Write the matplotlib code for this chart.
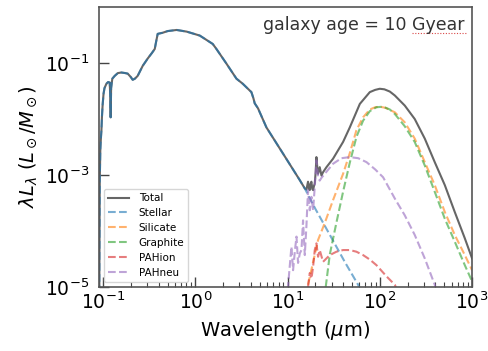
import numpy as np
import matplotlib.pyplot as plt
from matplotlib.ticker import LogLocator, NullLocator

# values, stored as log10(wavelength / um) and log10(lambda L_lambda)
stellar_logw = [-1.042, -1.036, -1.030, -1.024, -1.018, -1.012, -1.005, -0.995, -0.985, -0.964,
                -0.945, -0.928, -0.922, -0.918, -0.913, -0.900, -0.874, -0.840, -0.802, -0.760,
                -0.733, -0.700, -0.679, -0.655, -0.625, -0.570, -0.516, -0.470, -0.440, -0.425,
                -0.408, -0.354, -0.300, -0.202, -0.093, 0.048, 0.189, 0.229, 0.337, 0.446,
                0.514, 0.608, 0.630, 0.644, 0.680, 0.771, 0.948, 1.132, 1.187, 1.300,
                1.469, 1.620, 1.765, 1.800]
stellar_logv = [-5.5, -3.1, -2.55, -2.35, -2.20, -1.95, -1.75, -1.55, -1.45, -1.37,
                -1.34, -1.35, -1.60, -1.97, -1.45, -1.28, -1.23, -1.18, -1.17, -1.18,
                -1.19, -1.25, -1.30, -1.28, -1.23, -1.05, -0.92, -0.82, -0.75, -0.62,
                -0.48, -0.46, -0.43, -0.41, -0.44, -0.51, -0.66, -0.75, -1.01, -1.28,
                -1.37, -1.52, -1.63, -1.72, -1.81, -2.15, -2.61, -3.09, -3.24, -3.60,
                -4.10, -4.55, -4.96, -5.1]

# total in the infrared (below ~10 um it is the stellar curve)
total_ir_logw = [1.132, 1.187, 1.205, 1.222, 1.232, 1.241, 1.250, 1.259, 1.268, 1.277,
                 1.286, 1.295, 1.305, 1.313, 1.322, 1.331, 1.349, 1.368, 1.385, 1.422,
                 1.493, 1.602, 1.675, 1.784, 1.892, 1.950, 2.000, 2.050, 2.109, 2.163,
                 2.271, 2.379, 2.488, 2.596, 2.705, 2.813, 2.922, 3.001]
total_ir_logv = [-3.09, -3.24, -3.26, -3.12, -3.24, -3.27, -3.15, -3.12, -3.25, -3.27,
                 -3.20, -3.15, -2.95, -2.68, -2.85, -2.98, -2.86, -3.01, -2.95, -2.86,
                 -2.71, -2.41, -2.15, -1.73, -1.52, -1.48, -1.46, -1.47, -1.51, -1.58,
                 -1.76, -2.00, -2.35, -2.77, -3.18, -3.66, -4.13, -4.49]

silicate_logw = [1.222, 1.331, 1.403, 1.493, 1.602, 1.675, 1.747, 1.819, 1.892, 1.950,
                 2.000, 2.060, 2.163, 2.271, 2.379, 2.488, 2.596, 2.705, 2.813, 2.922, 3.001]
silicate_logv = [-4.96, -4.16, -3.86, -3.45, -2.98, -2.61, -2.20, -1.97, -1.83, -1.79,
                 -1.78, -1.80, -1.88, -2.06, -2.35, -2.77, -3.18, -3.66, -4.07, -4.43, -4.70]

graphite_logw = [1.414, 1.458, 1.530, 1.602, 1.675, 1.747, 1.819, 1.892, 1.964, 2.036,
                 2.109, 2.163, 2.271, 2.379, 2.488, 2.596, 2.705, 2.813, 2.922, 3.001]
graphite_logv = [-5.0, -4.42, -3.85, -3.30, -2.78, -2.32, -2.03, -1.86, -1.79, -1.78,
                 -1.83, -1.91, -2.13, -2.41, -2.83, -3.30, -3.78, -4.19, -4.61, -4.90]

pahion_logw = [1.222, 1.241, 1.259, 1.277, 1.295, 1.313, 1.331, 1.349, 1.385, 1.458,
               1.530, 1.602, 1.675, 1.747, 1.819, 1.892, 1.964, 2.073, 2.163, 2.200]
pahion_logv = [-5.0, -4.75, -4.85, -4.64, -4.34, -4.22, -4.46, -4.34, -4.55, -4.43,
               -4.37, -4.34, -4.34, -4.37, -4.43, -4.51, -4.61, -4.81, -4.96, -5.1]

pahneu_logw = [1.002, 1.042, 1.060, 1.080, 1.097, 1.114, 1.133, 1.151, 1.168, 1.187,
               1.205, 1.222, 1.241, 1.259, 1.277, 1.295, 1.313, 1.331, 1.349, 1.368,
               1.403, 1.493, 1.584, 1.675, 1.766, 1.856, 1.950, 2.036, 2.163, 2.271,
               2.379, 2.488, 2.596, 2.620]
pahneu_logv = [-5.05, -4.28, -4.70, -4.35, -4.10, -4.57, -4.40, -4.34, -3.81, -4.43,
               -3.90, -3.27, -3.63, -3.39, -3.63, -3.21, -2.74, -3.04, -3.10, -3.05,
               -2.98, -2.80, -2.70, -2.68, -2.70, -2.77, -2.90, -3.04, -3.42, -3.72,
               -4.07, -4.49, -4.96, -5.1]

labels = ['Total', 'Stellar', 'Silicate', 'Graphite', 'PAHion', 'PAHneu']
colors = ['tab:blue', 'tab:orange', 'tab:green', 'tab:red', 'tab:purple']

# total = stellar part (below ~10 um) + infrared part
n_opt = sum(1 for w in stellar_logw if w < 1.0)
total_logw = stellar_logw[:n_opt] + total_ir_logw
total_logv = stellar_logv[:n_opt] + total_ir_logv

comps = [(stellar_logw, stellar_logv), (silicate_logw, silicate_logv),
         (graphite_logw, graphite_logv), (pahion_logw, pahion_logv),
         (pahneu_logw, pahneu_logv)]

fig = plt.figure(figsize=(4.89, 3.51), dpi=100)
ax = fig.add_axes([99 / 489, 1 - 287 / 351, 373 / 489, 280 / 351])

ax.plot(10 ** np.array(total_logw), 10 ** np.array(total_logv), color='#666666', lw=1.5, label=labels[0])
for (lw_, lv_), c, lab in zip(comps, colors, labels[1:]):
    ax.plot(10 ** np.array(lw_), 10 ** np.array(lv_), '--', color=c, alpha=0.6, lw=1.5, label=lab)

ax.set_xscale('log')
ax.set_yscale('log')
ax.set_xlim(0.0903, 1000)
ax.set_ylim(1e-5, 1.0)
ax.set_yticks([1e-5, 1e-3, 1e-1])
ax.yaxis.set_minor_locator(NullLocator())
ax.xaxis.set_minor_locator(LogLocator(base=10, subs=np.arange(2, 10)))

ax.tick_params(which='both', direction='in', colors='#444444', labelcolor='black', labelsize=13.5)
ax.tick_params(which='major', length=7, width=1)
ax.tick_params(which='minor', length=3.5, width=0.8)
ax.tick_params(axis='y', which='major', pad=7)
for s in ax.spines.values():
    s.set_color('#555555')
    s.set_linewidth(1.2)

ax.set_xlabel(r'Wavelength ($\mu$m)', fontsize=14)
ax.set_ylabel(r'$\lambda L_\lambda\ (L_\odot/M_\odot)$', fontsize=14)

ax.text(0.981, 0.918, 'galaxy age = 10 Gyear', transform=ax.transAxes,
        ha='right', va='baseline', fontsize=12.5, color='#333333')
ax.plot([0.839, 0.984], [0.908, 0.908], transform=ax.transAxes, color='#d94848',
        lw=0.8, ls=(0, (1, 1.5)), clip_on=False)

ax.legend(loc='lower left', fontsize=7.5, labelspacing=0.47, handlelength=2,
          borderpad=0.4, handletextpad=0.9)

fig.savefig('out.png', dpi=100)
